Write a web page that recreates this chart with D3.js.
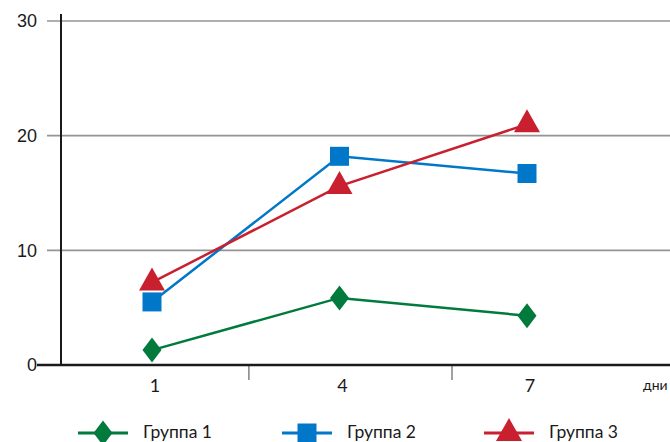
<!DOCTYPE html>
<html><head><meta charset="utf-8">
<script src="https://cdn.jsdelivr.net/npm/d3@7"></script>
<style>body{margin:0;background:#fff;}svg{display:block;}</style>
</head><body>
<svg id="c" width="670" height="442"></svg>
<script>
const days = ["1","4","7"];
const yTicks = [0,10,20,30];
const group1 = [1.3, 5.85, 4.3];
const group2 = [5.5, 18.2, 16.7];
const group3 = [7.2, 15.6, 21.0];
const seriesNames = ["Группа 1","Группа 2","Группа 3"];
const seriesColors = ["#007a3d","#0077c8","#c8202f"];
const seriesShapes = ["diamond","square","triangle"];
const unitLabel = "дни";

const svg = d3.select("#c");
const y = d3.scaleLinear().domain([0,30]).range([365,21]);
const x = d3.scalePoint().domain(days).range([152,527]);
const sepDays = [2.55, 5.8];
const xl = d3.scaleLinear().domain([1,7]).range([152,527]);

// gridlines
svg.append("g").selectAll("line").data(yTicks.filter(d=>d>0)).join("line")
  .attr("x1",47).attr("x2",670).attr("y1",d=>y(d)).attr("y2",d=>y(d))
  .attr("stroke","#949494").attr("stroke-width",1.6);
// y labels
svg.append("g").selectAll("text").data(yTicks).join("text")
  .attr("x",37).attr("y",d=>y(d)).attr("dy","0.36em").attr("text-anchor","end")
  .attr("font-family","Liberation Sans, Arial, sans-serif").attr("font-size",18).attr("fill","#1a1a1a")
  .text(d=>d);
// y axis
svg.append("line").attr("x1",61).attr("x2",61).attr("y1",14).attr("y2",y(0))
  .attr("stroke","#1a1a1a").attr("stroke-width",2);
// separator ticks
svg.append("g").selectAll("line").data(sepDays).join("line")
  .attr("x1",d=>xl(d)).attr("x2",d=>xl(d)).attr("y1",y(0)).attr("y2",380)
  .attr("stroke","#8a8a8a").attr("stroke-width",1.6);
// x axis
svg.append("line").attr("x1",37).attr("x2",670).attr("y1",y(0)).attr("y2",y(0))
  .attr("stroke","#1a1a1a").attr("stroke-width",2.4);
// x labels
svg.append("g").selectAll("text").data(days).join("text")
  .attr("x",d=>x(d)+3).attr("y",392).attr("text-anchor","middle")
  .attr("font-family","Lato, 'Open Sans', sans-serif").attr("font-size",18).attr("fill","#1a1a1a")
  .text(d=>d);
svg.append("text").attr("x",643).attr("y",390).attr("font-family","Lato, sans-serif")
  .attr("font-size",14).attr("fill","#1a1a1a").text(unitLabel);

function shapePath(shape){
  if(shape==="diamond") return "M0,-12.5L9.5,0L0,12.5L-9.5,0Z";
  if(shape==="square") return "M-9.5,-9.5H9.5V9.5H-9.5Z";
  return "M0,-15L13,8L-13,8Z";
}
const data = [group1, group2, group3];
const line = d3.line().x((d,i)=>x(days[i])).y(d=>y(d));
data.forEach((vals,k)=>{
  const g = svg.append("g");
  g.append("path").attr("d",line(vals)).attr("fill","none")
    .attr("stroke",seriesColors[k]).attr("stroke-width",2.5);
  g.selectAll("path.m").data(vals).join("path").attr("class","m")
    .attr("transform",(d,i)=>`translate(${x(days[i])},${y(d)})`)
    .attr("d",shapePath(seriesShapes[k])).attr("fill",seriesColors[k]);
});

// legend
const legX = [78, 282, 484];
seriesNames.forEach((n,k)=>{
  const g = svg.append("g").attr("transform",`translate(${legX[k]},433)`);
  g.append("line").attr("x1",0).attr("x2",50).attr("stroke",seriesColors[k]).attr("stroke-width",3);
  g.append("path").attr("transform","translate(25,0)").attr("d",shapePath(seriesShapes[k])).attr("fill",seriesColors[k]);
  g.append("text").attr("x",65).attr("y",5).attr("font-family","Lato, sans-serif")
    .attr("font-size",17.5).attr("fill","#1a1a1a").text(n);
});
</script>
</body></html>
